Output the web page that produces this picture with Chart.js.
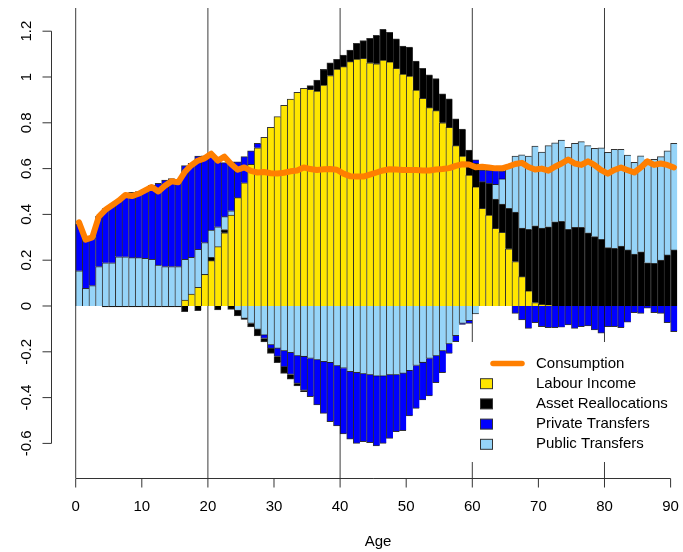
<!DOCTYPE html>
<html>
<head>
<meta charset="utf-8">
<script src="https://cdn.jsdelivr.net/npm/chart.js@4.4.1/dist/chart.umd.min.js"></script>
<style>
  html, body { margin: 0; padding: 0; background: #fff; }
  #wrap { width: 683px; height: 552px; position: relative; }
</style>
</head>
<body>
<div id="wrap"><canvas id="c"></canvas></div>
<script>
// Ages 0..90, one bar per single year of age
const ages = [0,1,2,3,4,5,6,7,8,9,10,11,12,13,14,15,16,17,18,19,20,21,22,23,24,25,26,27,28,29,30,
  31,32,33,34,35,36,37,38,39,40,41,42,43,44,45,46,47,48,49,50,51,52,53,54,55,56,57,58,59,60,
  61,62,63,64,65,66,67,68,69,70,71,72,73,74,75,76,77,78,79,80,81,82,83,84,85,86,87,88,89,90];

const consumption = [0.365,0.290,0.300,0.390,0.420,0.440,0.460,0.485,0.480,0.490,0.505,0.520,0.500,0.525,0.545,0.540,
  0.585,0.615,0.635,0.645,0.665,0.635,0.652,0.620,0.595,0.605,0.590,0.583,0.585,0.580,0.579,0.582,0.588,0.592,0.605,
  0.598,0.594,0.597,0.598,0.595,0.578,0.567,0.565,0.565,0.574,0.583,0.592,0.597,0.596,0.594,0.594,0.594,0.592,0.592,
  0.596,0.598,0.602,0.612,0.619,0.618,0.606,0.608,0.605,0.601,0.601,0.610,0.620,0.625,0.607,0.596,0.600,0.591,0.608,
  0.622,0.640,0.622,0.616,0.632,0.615,0.593,0.578,0.594,0.605,0.593,0.583,0.605,0.632,0.616,0.622,0.616,0.605];

const labourIncome = [0,0,0,0,0,0,0,0,0,0,0,0,0,0,0,0,
  0.026,0.052,0.082,0.138,0.198,0.259,0.320,0.397,0.473,0.538,0.619,0.691,0.737,0.780,0.827,0.876,0.904,0.933,0.951,
  0.946,0.939,0.965,1.006,1.035,1.045,1.067,1.078,1.082,1.062,1.058,1.074,1.066,1.038,1.013,1.004,0.943,0.907,0.866,
  0.853,0.800,0.780,0.700,0.655,0.572,0.520,0.427,0.397,0.339,0.322,0.250,0.194,0.128,0.066,0.015,0.007,0.003,
  0,0,0,0,0,0,0,0,0,0,0,0,0,0,0,0,0,0,0];

// Asset reallocations: inflows (above zero) and outflows (below zero)
const assetInflow = [0,0,0,0,0,0,0,0,0,0,0,0,0,0,0,0,0,0,0,0,
  0.015,0,0.014,0,0,0,0,0,0,0,0,0,0,0,0,
  0.016,0.048,0.068,0.056,0.042,0.051,0.051,0.069,0.077,0.107,0.124,0.134,0.129,0.129,0.122,0.127,0.127,0.131,0.143,
  0.140,0.127,0.125,0.117,0.118,0.109,0.103,0.116,0.139,0.128,0.123,0.177,0.216,0.212,0.269,0.335,0.333,0.343,0.368,
  0.370,0.335,0.344,0.344,0.320,0.303,0.291,0.255,0.252,0.262,0.245,0.227,0.237,0.189,0.186,0.201,0.223,0.245];

const assetOutflow = [0,0,0,0,-0.004,-0.004,-0.004,-0.004,-0.004,-0.004,-0.004,-0.004,-0.004,-0.004,-0.004,-0.004,
  -0.025,0,-0.020,0,0,-0.017,0,-0.015,-0.023,-0.005,-0.015,-0.029,-0.015,-0.022,-0.027,-0.028,-0.021,-0.011,-0.005,
  0,0,0,0,0,0,0,0,0,0,0,0,0,0,0,0,0,0,0,0,0,0,0,0,0,0,0,0,0,0,0,0,0,0,0,0,0,0,0,0,0,0,0,0,0,0,0,0,0,0,0,0,0,0,0,0];

const privateTransfers = [0.204,0.214,0.211,0.221,0.236,0.249,0.248,0.271,0.285,0.289,0.300,0.323,0.357,0.378,0.384,0.381,
  0.409,0.410,0.407,0.379,0.328,0.299,0.236,0.214,0.157,0.114,0.059,0.019,-0.015,-0.015,-0.035,-0.070,-0.095,-0.120,-0.148,
  -0.167,-0.196,-0.226,-0.258,-0.262,-0.287,-0.295,-0.309,-0.295,-0.296,-0.305,-0.294,-0.277,-0.248,-0.250,-0.198,-0.187,
  -0.163,-0.164,-0.117,-0.095,-0.041,-0.026,-0.004,-0.012,0.015,0.051,0.058,0.063,0.035,0,-0.032,-0.061,-0.098,-0.073,
  -0.090,-0.095,-0.095,-0.093,-0.083,-0.098,-0.090,-0.087,-0.105,-0.119,-0.090,-0.090,-0.095,-0.071,-0.029,-0.032,-0.010,
  -0.029,-0.032,-0.073,-0.112];

const publicTransfers = [0.154,0.077,0.089,0.172,0.189,0.189,0.215,0.215,0.211,0.211,0.208,0.204,0.179,0.172,0.172,0.172,
  0.178,0.161,0.166,0.139,0.119,0.087,0.056,0.019,-0.020,-0.054,-0.076,-0.102,-0.127,-0.170,-0.185,-0.196,-0.204,-0.218,
  -0.221,-0.229,-0.236,-0.243,-0.247,-0.262,-0.272,-0.287,-0.291,-0.297,-0.301,-0.306,-0.306,-0.301,-0.301,-0.294,-0.282,
  -0.260,-0.247,-0.229,-0.218,-0.196,-0.166,-0.130,-0.076,-0.064,-0.035,0,0,0.064,0.110,0.188,0.245,0.320,0.320,0.348,
  0.332,0.354,0.345,0.355,0.358,0.366,0.374,0.380,0.386,0.400,0.416,0.432,0.422,0.414,0.400,0.419,0.449,0.454,0.451,
  0.455,0.465];

const xTicks = [0,10,20,30,40,50,60,70,80,90];
const yTicks = [-0.6,-0.4,-0.2,0,0.2,0.4,0.6,0.8,1,1.2];
const yTickLabels = ['-0.6','-0.4','-0.2','0','0.2','0.4','0.6','0.8','1','1.2'];
const refAges = [0,20,40,60,80];

const COLORS = {
  consumption: '#FF7F00',
  labour: '#FFE600',
  asset: '#000000',
  private: '#0000FF',
  public: '#96D4F8'
};

const FONT = '15px "Liberation Sans", Arial, Helvetica, sans-serif';

const above = a => a.map((v, i) => ({ x: ages[i] + 0.5, y: v > 0 ? v : null }));
const below = a => a.map((v, i) => ({ x: ages[i] + 0.5, y: v < 0 ? v : null }));

const barStyle = color => ({
  type: 'bar',
  backgroundColor: color,
  borderColor: 'rgba(0,0,0,0.8)',
  borderWidth: { top: 1, bottom: 1, left: 1, right: 0 },
  borderSkipped: 'start',
  barPercentage: 1,
  categoryPercentage: 1,
  yAxisID: 'y',
  stack: 'flows'
});

const datasets = [
  {
    type: 'line', label: 'Consumption',
    data: consumption.map((v, i) => ({ x: ages[i] + 0.5, y: v })),
    borderColor: COLORS.consumption, borderWidth: 6, pointRadius: 0,
    borderJoinStyle: 'round', borderCapStyle: 'round', tension: 0, fill: false,
    yAxisID: 'yc'
  },
  // positive side, bottom to top
  Object.assign(barStyle(COLORS.labour),  { label: 'Labour Income',       data: above(labourIncome) }),
  Object.assign(barStyle(COLORS.asset),   { label: 'Asset Reallocations', data: above(assetInflow) }),
  Object.assign(barStyle(COLORS.public),  { label: 'Public Transfers',    data: above(publicTransfers) }),
  Object.assign(barStyle(COLORS.private), { label: 'Private Transfers',   data: above(privateTransfers) }),
  // negative side, from zero downwards
  Object.assign(barStyle(COLORS.public),  { label: 'Public Transfers',    data: below(publicTransfers) }),
  Object.assign(barStyle(COLORS.private), { label: 'Private Transfers',   data: below(privateTransfers) }),
  Object.assign(barStyle(COLORS.asset),   { label: 'Asset Reallocations', data: below(assetOutflow) })
];

const legendItems = [
  { text: 'Consumption', color: COLORS.consumption, line: true },
  { text: 'Labour Income', color: COLORS.labour },
  { text: 'Asset Reallocations', color: COLORS.asset },
  { text: 'Private Transfers', color: COLORS.private },
  { text: 'Public Transfers', color: COLORS.public }
];

// Axis frame, reference lines and legend in a base-graphics style
const frame = {
  id: 'frame',
  beforeDatasetsDraw(chart) {
    const { ctx, chartArea, scales: { x } } = chart;
    ctx.save();
    ctx.strokeStyle = '#3c3c3c';
    ctx.lineWidth = 1;
    refAges.forEach(a => {
      const px = x.getPixelForValue(a);
      ctx.beginPath();
      ctx.moveTo(px, chartArea.top);
      ctx.lineTo(px, chartArea.bottom);
      ctx.stroke();
    });
    ctx.restore();
  },
  afterDraw(chart) {
    const { ctx, chartArea, scales: { x, y } } = chart;
    ctx.save();
    ctx.strokeStyle = '#333';
    ctx.lineWidth = 1;
    ctx.fillStyle = '#000';
    ctx.font = FONT;

    // x axis
    const ay = chartArea.bottom + 0.5;
    ctx.beginPath();
    ctx.moveTo(x.getPixelForValue(xTicks[0]), ay);
    ctx.lineTo(x.getPixelForValue(xTicks[xTicks.length - 1]), ay);
    ctx.stroke();
    ctx.textAlign = 'center';
    ctx.textBaseline = 'alphabetic';
    xTicks.forEach(t => {
      const px = x.getPixelForValue(t);
      ctx.beginPath();
      ctx.moveTo(px, ay);
      ctx.lineTo(px, ay + 9);
      ctx.stroke();
      ctx.fillText(String(t), px, ay + 32);
    });
    ctx.fillText('Age', 378, 546);

    // y axis
    const ax = chartArea.left + 0.5;
    ctx.beginPath();
    ctx.moveTo(ax, y.getPixelForValue(yTicks[yTicks.length - 1]));
    ctx.lineTo(ax, y.getPixelForValue(yTicks[0]));
    ctx.stroke();
    yTicks.forEach((t, i) => {
      const py = y.getPixelForValue(t);
      ctx.beginPath();
      ctx.moveTo(ax - 9, py);
      ctx.lineTo(ax, py);
      ctx.stroke();
      ctx.save();
      ctx.translate(31, py);
      ctx.rotate(-Math.PI / 2);
      ctx.textAlign = 'center';
      ctx.textBaseline = 'alphabetic';
      ctx.fillText(yTickLabels[i], 0, 0);
      ctx.restore();
    });

    // legend
    const lx = 468, ly = 342, lw = 200, lh = 120;
    ctx.fillStyle = '#fff';
    ctx.fillRect(lx, ly, lw, lh);
    ctx.textAlign = 'left';
    ctx.textBaseline = 'middle';
    legendItems.forEach((it, i) => {
      const cy = 363.5 + i * 20.2;
      if (it.line) {
        ctx.strokeStyle = it.color;
        ctx.lineWidth = 5.5;
        ctx.lineCap = 'round';
        ctx.beginPath();
        ctx.moveTo(493, cy);
        ctx.lineTo(522, cy);
        ctx.stroke();
      } else {
        ctx.fillStyle = it.color;
        ctx.fillRect(480.5, cy - 5, 12, 10);
        ctx.strokeStyle = '#333';
        ctx.lineWidth = 1;
        ctx.strokeRect(480.5, cy - 5, 12, 10);
      }
      ctx.fillStyle = '#000';
      ctx.fillText(it.text, 536, cy);
    });
    ctx.restore();
  }
};

// pixel geometry of the plotting region: age 0 sits 24.7px right of the y axis, 6.61px per year
const X_MIN = -3.737, X_MAX = 91.574;
const Y_MIN = -0.7511, Y_MAX = 1.3013;

new Chart(document.getElementById('c'), {
  data: { datasets },
  options: {
    responsive: true,
    maintainAspectRatio: false,
    animation: false,
    layout: { padding: { left: 51, right: 2, top: 8, bottom: 74 } },
    plugins: { legend: { display: false }, tooltip: { enabled: false } },
    scales: {
      x: { type: 'linear', min: X_MIN, max: X_MAX, offset: false, stacked: true, display: false },
      y: { type: 'linear', min: Y_MIN, max: Y_MAX, stacked: true, display: false },
      yc: { type: 'linear', min: Y_MIN, max: Y_MAX, display: false }
    }
  },
  plugins: [frame]
});
</script>
</body>
</html>
